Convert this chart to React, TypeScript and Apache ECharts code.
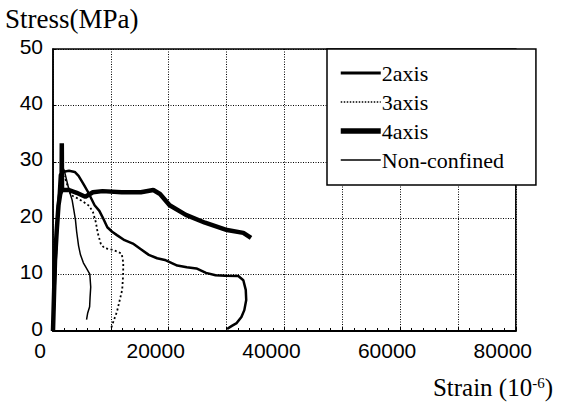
import React, { useEffect, useRef } from "react";
import * as echarts from "echarts";

// [strain (10^-6), stress (MPa)]
const axis2: [number, number][] = [
  [0, 0], [280, 7.3], [610, 16.1], [940, 23.2], [1190, 27.7], [1610, 28.2], [2770, 28.4],
  [3760, 28.2], [4420, 27.5], [5250, 26.1], [6080, 24.6], [7190, 22.3], [8010, 21.3],
  [8560, 20.2], [9390, 18.4], [10220, 17.6], [11050, 17.0], [12370, 16.1], [13810, 15.5],
  [15190, 14.5], [16560, 13.5], [18000, 12.9], [19330, 12.6], [21480, 11.6], [23130, 11.3],
  [24790, 11.1], [26450, 10.3], [28100, 9.9], [29760, 9.8], [32030, 9.75], [32900, 9.0],
  [33320, 7.3], [33400, 5.5], [33070, 3.7], [32570, 2.5], [31750, 1.4], [30920, 0.9], [30090, 0.35],
];
const axis3: [number, number][] = [
  [0, 0], [280, 7.3], [610, 15.2], [940, 22.3], [1280, 25.9], [1610, 27.7], [2100, 27.1],
  [2600, 25.5], [3100, 24.1], [4090, 23.6], [5250, 22.9], [6240, 22.2], [6900, 21.1],
  [7400, 19.3], [7730, 17.4], [8280, 15.4], [8890, 14.7], [9940, 14.5], [11050, 14.1],
  [11870, 13.7], [12150, 12.1], [12120, 9.9], [11960, 7.3], [11540, 5.5], [11050, 3.4],
  [10550, 2.0], [10050, 0.5],
];
const axis4: [number, number][] = [
  [0, 0], [150, 5.5], [350, 12.6], [650, 17.9], [950, 22.3], [1250, 24.3], [1480, 25.0],
  [1520, 33.3], [1560, 25.0], [2770, 25.0], [4090, 24.5], [5580, 23.8], [6900, 24.6],
  [8560, 24.8], [11870, 24.6], [15190, 24.6], [17340, 25.0], [18500, 24.3], [20160, 22.3],
  [22970, 20.6], [26280, 19.2], [30090, 17.9], [32900, 17.4], [34230, 16.5],
];
const nonConfined: [number, number][] = [
  [0, 0], [280, 7.3], [610, 15.2], [940, 22.3], [1280, 26.8], [1610, 29.1], [1940, 28.5],
  [2270, 27.1], [2770, 25.0], [3310, 23.2], [3590, 21.5], [3880, 19.7], [4090, 17.6],
  [4420, 15.1], [4750, 13.5], [5250, 12.1], [5750, 11.2], [6360, 10.1], [6520, 7.8],
  [6410, 6.0], [6330, 4.3], [6000, 3.2], [5800, 2.0],
];

const seriesNames = ["2axis", "3axis", "4axis", "Non-confined"];
const labeledXTicks = [0, 20000, 40000, 60000, 80000];

export default function App() {
  const ref = useRef<HTMLDivElement>(null);
  useEffect(() => {
    if (!ref.current) return;
    const chart = echarts.init(ref.current, null, { renderer: "svg" });
    const serif = "'Liberation Serif', 'Times New Roman', serif";
    const sans = "'Liberation Sans', Arial, sans-serif";
    const widths = [2.5, 1.8, 4.5, 1.5];
    const types: any[] = ["solid", [2, 2.5], "solid", "solid"];
    const legendWidths = [3, 1.5, 5.5, 1.5];
    const legendTypes: any[] = ["solid", [1.5, 1.5], "solid", "solid"];
    const allData = [axis2, axis3, axis4, nonConfined];
    chart.setOption({
      animation: false,
      backgroundColor: "#fff",
      grid: {
        left: 53, right: 24, top: 49, bottom: 83,
        show: true, borderColor: "#000", borderWidth: 1.5, containLabel: false,
      },
      legend: {
        orient: "vertical",
        left: 327,
        top: 49,
        data: seriesNames.map((name, i) => ({
          name,
          itemStyle: { opacity: 0 },
          lineStyle: { color: "#000", width: legendWidths[i], type: legendTypes[i] },
        })),
        itemWidth: 40,
        itemHeight: 14,
        itemGap: 7,
        padding: [13, 32, 14, 11],
        borderColor: "#000",
        borderWidth: 1.5,
        backgroundColor: "#fff",
        itemStyle: { opacity: 0 },
        textStyle: { fontFamily: serif, fontSize: 22, color: "#000", lineHeight: 22, padding: [0, 0, 0, -4] },
        selectedMode: false,
      },
      xAxis: {
        type: "value",
        min: 0,
        max: 80000,
        interval: 10000,
        axisLine: { show: true, lineStyle: { color: "#000", width: 2 } },
        axisTick: { show: true, inside: true, length: 4, lineStyle: { color: "#000" } },
        minorTick: { show: true, splitNumber: 5, length: 3, lineStyle: { color: "#000" } },
        splitLine: { show: true, lineStyle: { color: "#000", width: 1, type: [1, 1.5] } },
        axisLabel: {
          color: "#000",
          fontFamily: sans,
          fontSize: 21,
          lineHeight: 16,
          margin: 11,
          padding: [0, 26, 0, 0],
          formatter: (v: number) => (labeledXTicks.includes(v) ? String(v) : ""),
        },
      },
      yAxis: {
        type: "value",
        min: 0,
        max: 50,
        interval: 10,
        axisLine: { show: true, lineStyle: { color: "#000", width: 1.5 } },
        axisTick: { show: true, inside: true, length: 3, lineStyle: { color: "#000" } },
        splitLine: { show: true, lineStyle: { color: "#000", width: 1, type: [1, 1.5] } },
        axisLabel: {
          color: "#000",
          fontFamily: sans,
          fontSize: 21,
          lineHeight: 6,
          margin: 10,
          verticalAlign: "bottom",
        },
      },
      graphic: [
        {
          type: "text",
          left: 5,
          top: 5,
          style: { text: "Stress(MPa)", fontFamily: serif, fontSize: 27, fill: "#000" },
        },
        {
          type: "text",
          right: 8,
          top: 375,
          style: {
            text: "Strain (10{sup|-6})",
            fontFamily: serif,
            fontSize: 25,
            fill: "#000",
            rich: {
              sup: { fontFamily: serif, fontSize: 15, fill: "#000", verticalAlign: "top", padding: [0, 0, 10, 0] },
            },
          },
        },
      ],
      series: seriesNames.map((name, i) => ({
        name,
        type: "line",
        data: allData[i],
        symbol: "none",
        showSymbol: false,
        smooth: false,
        lineStyle: { color: "#000", width: widths[i], type: types[i] },
        itemStyle: { color: "#000" },
        emphasis: { disabled: true },
      })),
    });
    return () => chart.dispose();
  }, []);
  return <div ref={ref} style={{ width: 561, height: 414, position: "absolute", left: 0, top: 0 }} />;
}
